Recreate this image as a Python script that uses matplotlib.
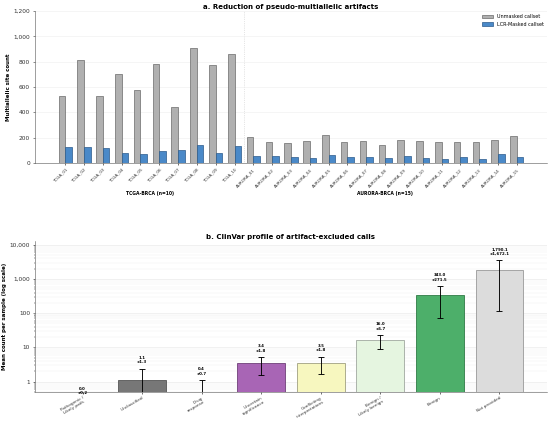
import matplotlib
matplotlib.use("Agg")
import matplotlib.pyplot as plt
import matplotlib.transforms as mtransforms
from matplotlib.ticker import FuncFormatter, LogLocator, NullFormatter

# ---- Data ----
samples_tcga = ["TCGA_01", "TCGA_02", "TCGA_03", "TCGA_04", "TCGA_05",
                "TCGA_06", "TCGA_07", "TCGA_08", "TCGA_09", "TCGA_10"]
samples_aurora = ["AURORA_01", "AURORA_02", "AURORA_03", "AURORA_04", "AURORA_05",
                  "AURORA_06", "AURORA_07", "AURORA_08", "AURORA_09", "AURORA_10",
                  "AURORA_11", "AURORA_12", "AURORA_13", "AURORA_14", "AURORA_15"]
unmasked_tcga = [530, 810, 530, 700, 575, 780, 445, 910, 770, 860]
masked_tcga = [130, 128, 118, 78, 75, 97, 100, 143, 82, 138]
unmasked_aurora = [208, 166, 161, 174, 221, 164, 174, 140, 179, 177, 164, 164, 164, 184, 210]
masked_aurora = [57, 52, 49, 36, 62, 44, 47, 42, 55, 36, 34, 49, 34, 70, 49]

clin_categories = ["Pathogenic /\nLikely path.", "Unclassified", "Drug\nresponse",
                   "Uncertain\nsignificance", "Conflicting\ninterpretations",
                   "Benign /\nLikely benign", "Benign", "Not provided"]
clin_means = [0.0, 1.1, 0.4, 3.4, 3.5, 16.0, 343.0, 1790.1]
clin_sds = [0.2, 1.3, 0.7, 1.8, 1.8, 6.7, 271.5, 1672.1]
clin_colors = ["#d73027", "#777777", "#8c6bb1", "#a865b5", "#f7f7bf",
               "#e5f5e0", "#4daf6a", "#dcdcdc"]
clin_edges = ["#8a1f19", "#555555", "#5a4a80", "#6e3f78", "#a0a080",
              "#a0a8a0", "#2f7a45", "#999999"]

# ---- Figure ----
fig = plt.figure(figsize=(11, 8.42), dpi=50)
ax1 = fig.add_axes([0.0636, 0.6128, 0.9309, 0.3611])
ax2 = fig.add_axes([0.0636, 0.0689, 0.9309, 0.3587])

samples = samples_tcga + samples_aurora
unmasked = unmasked_tcga + unmasked_aurora
masked = masked_tcga + masked_aurora
x = list(range(len(samples)))
w = 0.35
ax1.bar([i - w / 2 for i in x], unmasked, width=w, color="#b0b0b0",
        edgecolor="#6a6a6a", linewidth=1.0, label="Unmasked callset", zorder=3)
ax1.bar([i + w / 2 for i in x], masked, width=w, color="#4a89c8",
        edgecolor="#2a5a8a", linewidth=1.0, label="LCR-Masked callset", zorder=3)
ax1.set_xlim(-1.6, len(samples) + 0.6)
ax1.set_ylim(0, 1200)
ax1.set_yticks([0, 200, 400, 600, 800, 1000, 1200])
ax1.yaxis.set_major_formatter(FuncFormatter(lambda v, p: f"{int(v):,}"))
ax1.set_xticks(x)
ax1.set_xticklabels(samples, rotation=45, ha="right", rotation_mode="anchor",
                    fontsize=6, color="#333333")
ax1.tick_params(axis="y", labelsize=8.5, colors="#333333")
ax1.tick_params(axis="x", length=3)
ax1.grid(axis="y", color="#eeeeee", linewidth=0.8, zorder=0)
ax1.axvline(len(samples_tcga) - 0.5, color="#cccccc", linestyle=":", linewidth=1.0, zorder=1)
ax1.set_ylabel("Multiallelic site count", fontsize=8, fontweight="bold")
ax1.set_title("a. Reduction of pseudo-multiallelic artifacts", fontsize=10,
              fontweight="bold", pad=3)
for s in ["top", "right"]:
    ax1.spines[s].set_visible(False)
for s in ["left", "bottom"]:
    ax1.spines[s].set_color("#555555")
leg = ax1.legend(loc="upper right", frameon=False, fontsize=7, handlelength=2.2,
                 borderaxespad=0.3)
trans = mtransforms.blended_transform_factory(ax1.transData, ax1.transAxes)
ax1.text((len(samples_tcga) - 1) / 2, -0.2, "TCGA-BRCA (n=10)", transform=trans,
         ha="center", va="center", fontsize=6.5, fontweight="bold")
ax1.text(len(samples_tcga) + (len(samples_aurora) - 1) / 2, -0.2, "AURORA-BRCA (n=15)",
         transform=trans, ha="center", va="center", fontsize=6.5, fontweight="bold")

# ---- Panel b ----
xb = list(range(len(clin_categories)))
ax2.bar(xb, clin_means, width=0.8, color=clin_colors, edgecolor=clin_edges,
        linewidth=1.2, zorder=3)
lower = [min(s, m - 1e-3) if m > 0 else 0 for m, s in zip(clin_means, clin_sds)]
ax2.errorbar(xb, clin_means, yerr=[lower, clin_sds], fmt="none", ecolor="black",
             elinewidth=1.3, capsize=4, capthick=1.3, zorder=4)
ax2.set_yscale("log")
ax2.set_ylim(0.5, 12800)
ax2.set_xlim(-0.8, 7.8)
ax2.yaxis.set_major_locator(LogLocator(base=10, numticks=10))
ax2.yaxis.set_major_formatter(FuncFormatter(lambda v, p: f"{int(round(v)):,}" if v >= 1 else ""))
ax2.yaxis.set_minor_formatter(NullFormatter())
ax2.grid(axis="y", which="major", color="#e6e6e6", linewidth=0.8, zorder=0)
ax2.grid(axis="y", which="minor", color="#f0f0f0", linewidth=0.6, zorder=0)
ax2.set_xticks(xb)
ax2.set_xticklabels(clin_categories, rotation=30, ha="right", rotation_mode="anchor",
                    fontsize=6.2, color="#333333", linespacing=1.05)
ax2.tick_params(axis="x", pad=2)
ax2.tick_params(axis="y", labelsize=8.5, colors="#333333")
ax2.set_ylabel("Mean count per sample (log scale)", fontsize=8, fontweight="bold")
ax2.set_title("b. ClinVar profile of artifact-excluded calls", fontsize=10,
              fontweight="bold", pad=3)
for s in ["top", "right"]:
    ax2.spines[s].set_visible(False)
for s in ["left", "bottom"]:
    ax2.spines[s].set_color("#555555")
for i, (m, s) in enumerate(zip(clin_means, clin_sds)):
    ytop = max(m + s, 0.3) * 1.35
    ax2.text(i, ytop, f"{m:,.1f}\n±{s:,.1f}", ha="center", va="bottom",
             fontsize=5.5, fontweight="bold", clip_on=False, linespacing=1.1)

fig.savefig("out.png", dpi=50)
